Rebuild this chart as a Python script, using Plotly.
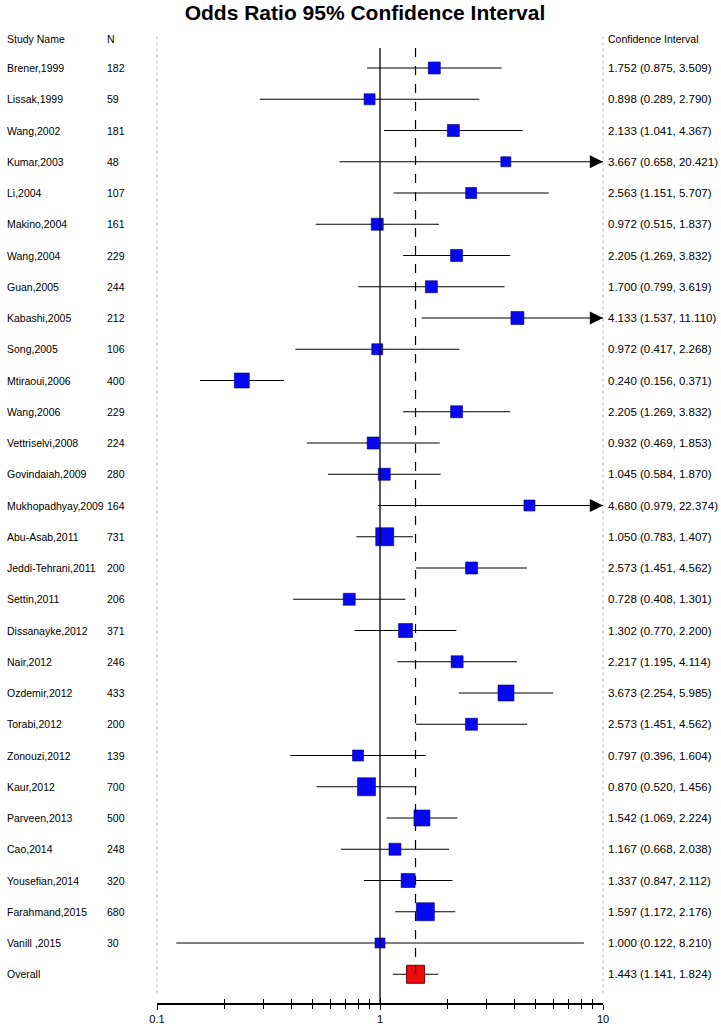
import plotly.graph_objects as go
import math

studies = ["Brener,1999", "Lissak,1999", "Wang,2002", "Kumar,2003", "Li,2004", "Makino,2004",
           "Wang,2004", "Guan,2005", "Kabashi,2005", "Song,2005", "Mtiraoui,2006", "Wang,2006",
           "Vettriselvi,2008", "Govindaiah,2009", "Mukhopadhyay,2009", "Abu-Asab,2011",
           "Jeddi-Tehrani,2011", "Settin,2011", "Dissanayke,2012", "Nair,2012", "Ozdemir,2012",
           "Torabi,2012", "Zonouzi,2012", "Kaur,2012", "Parveen,2013", "Cao,2014",
           "Yousefian,2014", "Farahmand,2015", "Vanill ,2015"]
n_values = [182, 59, 181, 48, 107, 161, 229, 244, 212, 106, 400, 229, 224, 280, 164, 731, 200,
            206, 371, 246, 433, 200, 139, 700, 500, 248, 320, 680, 30]
odds = [1.752, 0.898, 2.133, 3.667, 2.563, 0.972, 2.205, 1.700, 4.133, 0.972, 0.240, 2.205,
        0.932, 1.045, 4.680, 1.050, 2.573, 0.728, 1.302, 2.217, 3.673, 2.573, 0.797, 0.870,
        1.542, 1.167, 1.337, 1.597, 1.000]
lower = [0.875, 0.289, 1.041, 0.658, 1.151, 0.515, 1.269, 0.799, 1.537, 0.417, 0.156, 1.269,
         0.469, 0.584, 0.979, 0.783, 1.451, 0.408, 0.770, 1.195, 2.254, 1.451, 0.396, 0.520,
         1.069, 0.668, 0.847, 1.172, 0.122]
upper = [3.509, 2.790, 4.367, 20.421, 5.707, 1.837, 3.832, 3.619, 11.110, 2.268, 0.371, 3.832,
         1.853, 1.870, 22.374, 1.407, 4.562, 1.301, 2.200, 4.114, 5.985, 4.562, 1.604, 1.456,
         2.224, 2.038, 2.112, 2.176, 8.210]
overall_label = "Overall"
overall_or, overall_lo, overall_hi = 1.443, 1.141, 1.824

# square sizes (px) as displayed (study weights)
marker_px = [12, 11, 12, 10, 11, 12, 12, 12, 13, 11, 15, 12, 12, 12, 11, 18, 12, 12, 14, 12,
             16, 12, 11, 18, 16, 12, 14, 18, 10]
overall_px = 18

tick_vals = [0.1, 1, 10]
tick_text = ["0.1", "1", "10"]
minor_vals = [0.2, 0.3, 0.4, 0.5, 0.6, 0.7, 0.8, 0.9, 2, 3, 4, 5, 6, 7, 8, 9]

XMIN, XMAX = 0.1, 10
FONT = "Liberation Sans, Arial, sans-serif"
BLUE = "#0808f0"

rows = list(range(len(studies)))
overall_row = len(studies)

fig = go.Figure()

# CI lines (clipped at the axis limit, arrow when beyond)
lx, ly = [], []
for i in rows:
    lx += [max(lower[i], XMIN), min(upper[i], XMAX), None]
    ly += [i, i, None]
lx += [overall_lo, overall_hi, None]
ly += [overall_row, overall_row, None]
fig.add_trace(go.Scatter(x=lx, y=ly, mode="lines", line=dict(color="black", width=1.2),
                         hoverinfo="skip", showlegend=False))

# study squares
fig.add_trace(go.Scatter(x=odds, y=rows, mode="markers",
                         marker=dict(symbol="square", size=marker_px, color=BLUE, opacity=1,
                                     line=dict(color="#00007a", width=0.6)),
                         showlegend=False, text=studies))
# overall square
fig.add_trace(go.Scatter(x=[overall_or], y=[overall_row], mode="markers",
                         marker=dict(symbol="square", size=overall_px, color="#ee0b0b", opacity=1,
                                     line=dict(color="#7a0000", width=1)),
                         showlegend=False))

# invisible trace for overlay axis
fig.add_trace(go.Scatter(x=[1], y=[0], xaxis="x2", yaxis="y", mode="markers",
                         marker=dict(opacity=0), showlegend=False, hoverinfo="skip"))

# arrows for CIs exceeding the axis
for i in rows:
    if upper[i] > XMAX:
        fig.add_annotation(x=math.log10(XMAX), y=i, ax=math.log10(XMAX) - 0.04, ay=i,
                           xref="x", yref="y", axref="x", ayref="y", text="",
                           showarrow=True, arrowhead=2, arrowsize=2.2, arrowwidth=1.2,
                           arrowcolor="black", standoff=0, startstandoff=0)

# reference lines
fig.add_shape(type="line", xref="x", yref="paper", x0=1, x1=1, y0=0, y1=1,
              line=dict(color="black", width=1.3), layer="above")
fig.add_shape(type="line", xref="x", yref="y", x0=overall_or, x1=overall_or, y0=-0.64,
              y1=overall_row, line=dict(color="black", width=1.2, dash="dash"), layer="above")
# dotted column separators
for xp in [0, 1]:
    fig.add_shape(type="line", xref="paper", yref="paper", x0=xp, x1=xp, y0=0.01, y1=1.015,
                  line=dict(color="#b8b8b8", width=1, dash="dot"), layer="below")

# text columns
PLOT_L, PLOT_W = 157, 446
def px2paper(p):
    return (p - PLOT_L) / PLOT_W

name_x, n_x, ci_x = px2paper(5), px2paper(105), px2paper(606)
tf = dict(family=FONT, size=10.5, color="black")
cf = dict(family=FONT, size=11.5, color="black")
for i in rows:
    fig.add_annotation(x=name_x, y=i, xref="paper", yref="y", text=studies[i],
                       showarrow=False, xanchor="left", font=tf)
    fig.add_annotation(x=n_x, y=i, xref="paper", yref="y", text=str(n_values[i]),
                       showarrow=False, xanchor="left", font=tf)
    fig.add_annotation(x=ci_x, y=i, xref="paper", yref="y",
                       text=f"{odds[i]:.3f} ({lower[i]:.3f}, {upper[i]:.3f})",
                       showarrow=False, xanchor="left", font=cf)
fig.add_annotation(x=name_x, y=overall_row, xref="paper", yref="y", text=overall_label,
                   showarrow=False, xanchor="left", font=tf)
fig.add_annotation(x=ci_x, y=overall_row, xref="paper", yref="y",
                   text=f"{overall_or:.3f} ({overall_lo:.3f}, {overall_hi:.3f})",
                   showarrow=False, xanchor="left", font=cf)

# headers
hy = 1 + (48 - 39) / (1003 - 48)
for xx, t in [(name_x, "Study Name"), (n_x, "N"), (ci_x, "Confidence Interval")]:
    fig.add_annotation(x=xx, y=hy, xref="paper", yref="paper", text=t, showarrow=False,
                       xanchor="left", yanchor="middle", font=tf)

axis_common = dict(type="log", range=[math.log10(XMIN), math.log10(XMAX)],
                   showgrid=False, zeroline=False, automargin=False)
fig.update_layout(
    width=721, height=1029,
    margin=dict(l=157, r=118, t=48, b=26, autoexpand=False),
    paper_bgcolor="white", plot_bgcolor="white",
    title=dict(text="<b>Odds Ratio 95% Confidence Interval</b>", x=365 / 721, xanchor="center",
               y=1 - 13 / 1029, yanchor="middle",
               font=dict(family=FONT, size=21, color="black")),
    xaxis=dict(**axis_common, showline=True, linecolor="black", linewidth=1.5,
               tickvals=tick_vals, ticktext=tick_text, ticks="outside", ticklen=5,
               tickwidth=1.3, tickcolor="black",
               tickfont=dict(family=FONT, size=11, color="black"),
               minor=dict(tickvals=minor_vals, ticks="outside", ticklen=4, tickwidth=1.2,
                          tickcolor="black")),
    xaxis2=dict(**axis_common, overlaying="x", anchor="y", side="bottom", showline=False,
                tickvals=tick_vals, ticks="inside", ticklen=5, tickwidth=1.3,
                tickcolor="black", showticklabels=False,
                minor=dict(tickvals=minor_vals, ticks="inside", ticklen=4, tickwidth=1.2,
                           tickcolor="black")),
    yaxis=dict(range=[29.92, -0.64], showgrid=False, zeroline=False, showticklabels=False,
               showline=False, ticks="", automargin=False),
    hovermode=False,
)

fig.write_html("out.html", post_script="document.body.style.margin='0';",
               config={"displayModeBar": False})
